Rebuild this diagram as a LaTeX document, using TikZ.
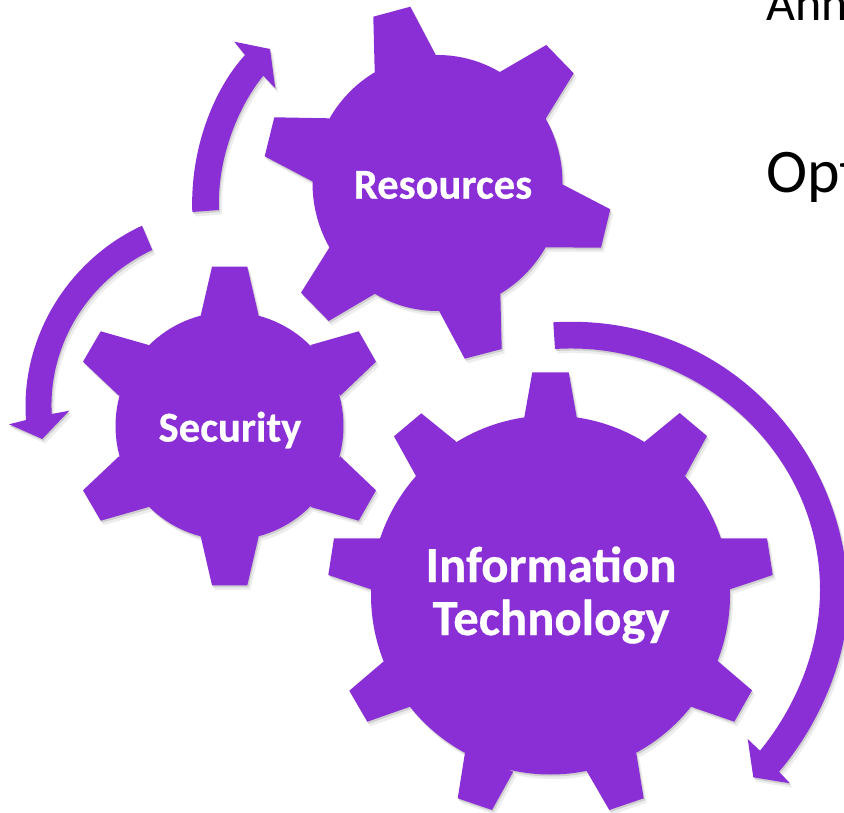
\documentclass[tikz,border=0pt]{standalone}
\usepackage{fontspec}
\setmainfont{Carlito}[BoldFeatures={FakeBold=0.5}]
\usepackage{tikz}
\usetikzlibrary{positioning}
\definecolor{gearpurple}{RGB}{138,47,214}
\newcommand\shadowblock[1]{\fill[gray!14,shift={(3,4.5)}] #1;\fill[gray!38,shift={(1.2,2)}] #1;\fill[gearpurple] #1;}
\newcommand\toothblock[4]{#1 -- #2 -- #3 -- #4 -- cycle}
\tikzset{gearlabel/.style={text=white,align=center,inner sep=0pt}}

\begin{document}
\begin{tikzpicture}[x=1pt,y=-1pt]
\clip (0,0) rectangle (844,813);
\fill[white] (0,0) rectangle (844,813);

\node[anchor=base west,inner sep=0pt,font=\fontsize{50}{50}\selectfont] (annline) at (766,21) {Ann};
\node[anchor=base west,inner sep=0pt,font=\fontsize{62}{62}\selectfont] (optline) at (766,193) {Opt};

% arrows
\shadowblock{(192.3,212) .. controls (190,150) and (213,90) .. (245,55) -- (234.3,41.7) -- (270,49) -- (275.3,88.3) -- (263.3,75.7) .. controls (237,108) and (217,160) .. (219,210) -- cycle}
\shadowblock{(142,225.7) .. controls (68,260) and (20,338) .. (26,420) -- (9,424.3) -- (42.3,439) -- (69.3,410.7) -- (51.7,414) .. controls (48,344) and (88.9,279.6) .. (152.3,250) -- cycle}
\shadowblock{(553.3,322.3) .. controls (725,312) and (848,450) .. (848,600) .. controls (848,655) and (821,722.7) .. (779,771.7) -- (790,783.3) -- (753.3,777.3) -- (747.7,739) -- (760,750.7) .. controls (795,708) and (820,650) .. (820,590) .. controls (820,450) and (695,340) .. (555,349) -- cycle}

% resources gear
\shadowblock{(437.5,183) ellipse [x radius=125,y radius=128]
	\toothblock{(374.7,71.7)}{(373.3,16.7)}{(410.3,6.7)}{(435.7,55)}
	\toothblock{(499.3,72.3)}{(546.3,45)}{(573.7,73.3)}{(545.3,119.3)}
	\toothblock{(562.3,184.3)}{(610.3,209.3)}{(601,247.7)}{(546,247.3)}
	\toothblock{(500.3,294)}{(501.7,349)}{(464.7,358.7)}{(439,310.7)}
	\toothblock{(375.7,293.3)}{(328.7,321)}{(301,292.7)}{(329.7,247)}
	\toothblock{(313,181.7)}{(264.7,156.3)}{(274.3,117.3)}{(329,118.3)}}

% security gear
\shadowblock{(229.5,426) circle (114)
	\toothblock{(200.7,315.7)}{(212,266.7)}{(247.3,266.7)}{(258.7,315.7)}
	\toothblock{(310.7,345)}{(358.7,331.3)}{(376,361.7)}{(340.3,395.7)}
	\toothblock{(340.3,456.3)}{(376,490.3)}{(358.7,520.7)}{(310.7,507)}
	\toothblock{(258.7,536.3)}{(247.3,585.3)}{(212,585.3)}{(200.7,536.3)}
	\toothblock{(148.7,507)}{(100.7,520.7)}{(83,490.3)}{(119,456.3)}
	\toothblock{(119,395.7)}{(83,361.7)}{(100.7,331.3)}{(148.7,345)}}

% information technology gear
\shadowblock{(550.5,595) circle (179.5)
	\toothblock{(524.3,417.3)}{(532.3,372.3)}{(568.7,372.3)}{(576.7,417.3)}
	\toothblock{(644.7,441.7)}{(679.7,413)}{(707,436)}{(685.3,475.7)}
	\toothblock{(721,538.3)}{(767,538.3)}{(772.7,575)}{(730,589.3)}
	\toothblock{(717.7,661)}{(752,690.3)}{(734.3,721.7)}{(691,706.7)}
	\toothblock{(636.3,753.3)}{(643.7,798.3)}{(609.3,810)}{(586.7,771)}
	\toothblock{(513.3,771.7)}{(492,810)}{(457.7,798.3)}{(465,752.7)}
	\toothblock{(410,706.7)}{(367.3,721.7)}{(349.3,690.7)}{(383.3,661.7)}
	\toothblock{(371,589.3)}{(328.3,575)}{(334,538.3)}{(380.3,538.3)}
	\toothblock{(416,476)}{(394,436.3)}{(421.3,413.3)}{(456.3,441.7)}}

\node[gearlabel,font=\bfseries\fontsize{42.6}{42.6}\selectfont] (resources) at (443,185) {Resources};
\node[gearlabel,font=\bfseries\fontsize{42.6}{42.6}\selectfont] (security) at (230,430) {Security};
\node[gearlabel,font=\bfseries\fontsize{50.7}{53}\selectfont] (infotech) at (551,595) {Information\\Technology};
\end{tikzpicture}
\end{document}
